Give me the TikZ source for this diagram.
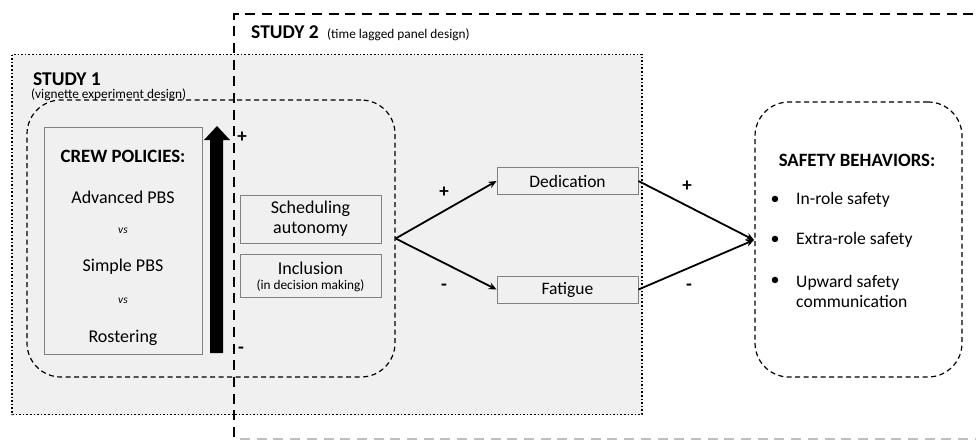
\documentclass[tikz,border=0pt]{standalone}
\usepackage{fontspec}
\setmainfont{Carlito}
\usetikzlibrary{arrows.meta}
\definecolor{panelgray}{HTML}{F0F0F0}
\definecolor{boxline}{HTML}{808080}
\begin{document}
\begin{tikzpicture}[x=1pt,y=-1pt,
  region/.style={draw=none,inner sep=0pt,outer sep=0pt},
  varbox/.style={draw=boxline,line width=0.9pt,fill=panelgray,inner sep=0pt,align=center,font=\fontsize{18}{20}\selectfont},
  groupbox/.style={draw=black,line width=1.2pt,dash pattern=on 5pt off 3.5pt,rounded corners=34pt,inner sep=0pt},
  conn/.style={line width=1.8pt,-{Stealth[length=8pt,width=7pt]}},
  sign/.style={font=\fontsize{19}{19}\selectfont\bfseries,inner sep=0pt},
  body/.style={font=\fontsize{18}{20}\selectfont,inner sep=0pt},
  heading/.style={font=\fontsize{18.8}{19}\selectfont\bfseries,inner sep=0pt},
  small/.style={font=\fontsize{13.3}{14}\selectfont,inner sep=0pt},
]
\useasboundingbox (0,0) rectangle (976,440);
\clip (0,0) rectangle (976,440);
% Study 1 panel
\node[region,fill=panelgray,minimum width=630pt,minimum height=360pt] (s1) at (327,234.5) {};
\draw[line width=1.6pt,dotted] (s1.north west) rectangle (s1.south east);
\node[anchor=base west,heading,font=\fontsize{19.5}{20}\selectfont\bfseries] (s1t) at (33,85) {STUDY 1};
\node[anchor=base west,small] (s1s) at (31,98.5) {(vignette experiment design)};
% inner dashed group
\node[groupbox,minimum width=368pt,minimum height=277pt] (grp) at (211,238.5) {};
% crew policies box
\node[varbox,minimum width=158pt,minimum height=227pt] (crew) at (123,240.5) {};
\node[heading] (crewt) at (123,156) {CREW POLICIES:};
\node[body] (adv) at (123,197) {Advanced PBS};
\node[small,font=\fontsize{11.5}{12}\selectfont\itshape] (vs1) at (123,231) {vs};
\node[body] (simp) at (123,267) {Simple PBS};
\node[small,font=\fontsize{11.5}{12}\selectfont\itshape] (vs2) at (123,301) {vs};
\node[body] (rost) at (123,338) {Rostering};
% big arrow
\fill[black] (210,353) -- (210,140) -- (204,140) -- (217,126) -- (230,140) -- (223,140) -- (223,353) -- cycle;
\node[sign] (plusA) at (242,137) {+};
\node[sign] (minusA) at (241,350) {-};
% mediators
\node[varbox,minimum width=141pt,minimum height=48pt] (sched) at (310.5,219) {Scheduling\\autonomy};
\node[varbox,minimum width=141pt,minimum height=43pt] (incl) at (310.5,275.5) {};
\node[body] (inclt) at (310.5,268) {Inclusion};
\node[small] (incls) at (310.5,286) {(in decision making)};
% outcomes
\node[varbox,font=\fontsize{17.5}{19}\selectfont,minimum width=141pt,minimum height=27pt] (ded) at (567.5,181) {Dedication};
\node[varbox,font=\fontsize{17.5}{19}\selectfont,minimum width=141pt,minimum height=27pt] (fat) at (567.5,289.5) {Fatigue};
% safety behaviors
\node[groupbox,minimum width=207pt,minimum height=275pt] (safe) at (858.5,239.5) {};
\node[heading] (safet) at (857,160) {SAFETY BEHAVIORS:};
\node[body,anchor=west,font=\fontsize{17.6}{20}\selectfont] (b1) at (796,200) {In-role safety};
\node[body,anchor=west,font=\fontsize{17.6}{20}\selectfont] (b2) at (796,240) {Extra-role safety};
\node[body,anchor=west,align=left,font=\fontsize{17.6}{20}\selectfont] (b3) at (796,291) {Upward safety\\communication};
\node[body] (d1) at (775,200) {•};
\node[body] (d2) at (775,240) {•};
\node[body] (d3) at (775,281) {•};
% connectors
\coordinate (src) at (grp.east);
\coordinate (dst) at (754,240);
\draw[conn] (src) -- (ded.west);
\draw[conn] (src) -- (fat.west);
\draw[conn] (ded.east) -- (dst);
\draw[conn] (fat.east) -- (dst);
\node[sign] (p1) at (444,192) {+};
\node[sign] (m1) at (444,287) {-};
\node[sign] (p2) at (687,186) {+};
\node[sign] (m2) at (689,287) {-};
% Study 2 panel
\coordinate (s2nw) at (234,14);
\coordinate (s2ne) at (990,14);
\coordinate (s2sw) at (234,450);
\draw[line width=2pt,dash pattern=on 10pt off 6.7pt] (s2ne) -- (s2nw) -- (s2sw);
\coordinate (s2bl) at (240,439);
\coordinate (s2br) at (990,439);
\draw[line width=1.5pt,gray!50,dash pattern=on 10pt off 6.7pt] (s2bl) -- (s2br);
\node[anchor=base west,heading,font=\fontsize{19.5}{20}\selectfont\bfseries] (s2t) at (251,38) {STUDY 2};
\node[anchor=base west,small] (s2s) at (327,38) {(time lagged panel design)};
\end{tikzpicture}
\end{document}
